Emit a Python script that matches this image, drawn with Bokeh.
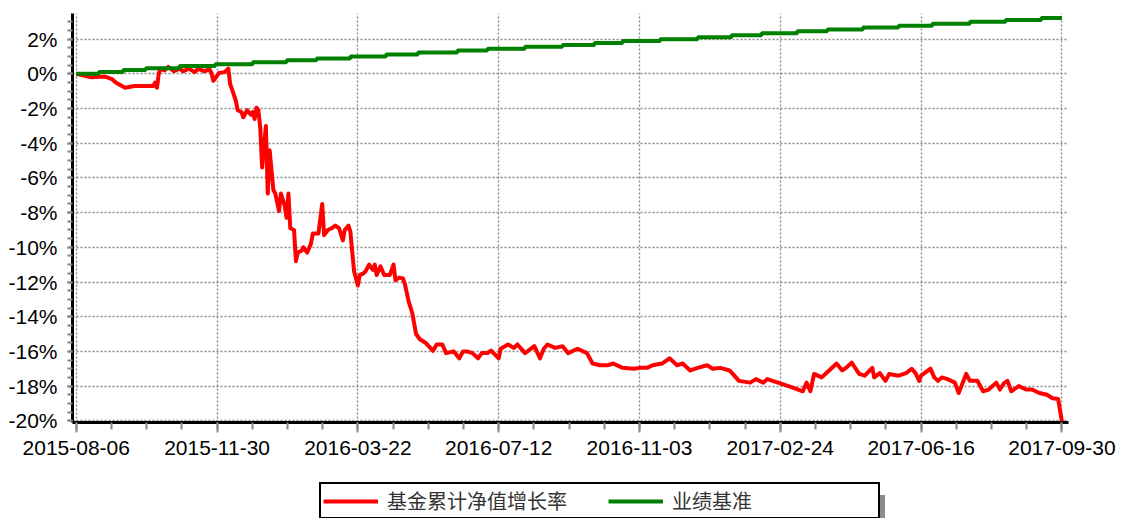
from bokeh.plotting import figure
from bokeh.layouts import column
from bokeh.models import (FixedTicker, PrintfTickFormatter, Legend, LegendItem, Range1d)
from bokeh.embed import file_html
from bokeh.resources import INLINE

# ---- data ----
x_tick_idx = [0, 75, 150, 225, 300, 375, 450, 525]
x_tick_labels = ["2015-08-06", "2015-11-30", "2016-03-22", "2016-07-12",
                 "2016-11-03", "2017-02-24", "2017-06-16", "2017-09-30"]
y_ticks = [-20, -18, -16, -14, -12, -10, -8, -6, -4, -2, 0, 2]

red_label = "基金累计净值增长率"
green_label = "业绩基准"

red_idx = [0, 8, 15, 19, 21, 26, 31, 41, 42, 43,
           44, 45, 47, 49, 52, 55, 57, 60, 63, 65,
           68, 71, 72, 73, 76, 79, 81, 82, 83, 85,
           86, 88, 89, 91, 93, 94, 95, 96, 97, 98,
           99, 101, 102, 103, 105, 106, 108, 109, 111, 112,
           113, 114, 116, 117, 118, 120, 121, 123, 125, 126,
           129, 131, 132, 134, 136, 138, 140, 142, 143, 145,
           146, 148, 150, 151, 153, 154, 156, 158, 159, 160,
           162, 164, 167, 169, 170, 172, 174, 175, 177, 179,
           181, 183, 186, 190, 192, 195, 197, 201, 204, 206,
           208, 211, 214, 216, 219, 221, 225, 226, 230, 233,
           235, 239, 244, 247, 249, 251, 255, 259, 262, 267,
           272, 275, 279, 283, 286, 291, 297, 300, 304, 307,
           312, 316, 320, 323, 327, 331, 336, 339, 343, 348,
           353, 359, 362, 366, 368, 375, 382, 387, 389, 391,
           393, 397, 401, 405, 408, 410, 413, 417, 420, 424,
           425, 428, 431, 433, 438, 442, 445, 447, 449, 450,
           455, 457, 459, 461, 464, 468, 470, 474, 476, 480,
           483, 486, 490, 492, 494, 496, 498, 502, 506, 509,
           513, 517, 520, 523, 525]
red_pct = [0.0, -0.2, -0.15, -0.3, -0.5, -0.8, -0.7, -0.7, -0.5, -0.8,
           0.05, 0.3, 0.2, 0.4, 0.15, 0.3, 0.15, 0.3, 0.1, 0.3,
           0.15, 0.25, 0.05, -0.4, 0.05, 0.1, 0.3, -0.6, -0.9, -1.55,
           -2.1, -2.2, -2.5, -2.1, -2.35, -2.2, -2.6, -1.95, -2.1, -3.1,
           -5.4, -3.0, -6.9, -4.4, -6.7, -6.9, -7.9, -6.9, -7.6, -8.3,
           -6.9, -8.9, -9.0, -10.8, -10.3, -10.2, -10.0, -10.3, -9.8, -9.2,
           -9.2, -7.5, -9.3, -9.0, -8.9, -8.75, -8.9, -9.6, -9.0, -8.75,
           -9.1, -11.4, -12.2, -11.6, -11.5, -11.4, -11.0, -11.3, -11.0, -11.6,
           -11.1, -11.6, -11.6, -11.0, -11.9, -11.75, -11.8, -12.1, -13.1, -13.8,
           -15.0, -15.3, -15.5, -15.97, -15.6, -15.6, -16.1, -16.0, -16.4, -16.0,
           -16.0, -16.1, -16.4, -16.1, -16.1, -15.95, -16.4, -15.85, -15.6, -15.8,
           -15.6, -16.1, -15.7, -16.4, -15.85, -15.6, -15.8, -15.7, -16.1, -15.85,
           -16.1, -16.7, -16.8, -16.8, -16.7, -16.95, -17.0, -16.95, -16.95, -16.8,
           -16.7, -16.4, -16.8, -16.7, -17.1, -16.95, -16.8, -17.0, -16.95, -17.1,
           -17.7, -17.8, -17.6, -17.8, -17.6, -17.85, -18.1, -18.3, -17.8, -18.3,
           -17.3, -17.5, -17.1, -16.7, -17.1, -16.95, -16.65, -17.3, -17.4, -16.95,
           -17.5, -17.25, -17.7, -17.3, -17.4, -17.25, -17.0, -17.25, -17.7, -17.4,
           -17.0, -17.5, -17.7, -17.5, -17.6, -17.8, -18.4, -17.3, -17.7, -17.7,
           -18.3, -18.2, -17.8, -18.2, -17.85, -17.7, -18.3, -18.0, -18.2, -18.2,
           -18.4, -18.5, -18.7, -18.75, -20.05]

green_idx = [0, 12, 25, 37, 55, 74, 94, 112, 128, 146,
             165, 182, 203, 219, 239, 259, 276, 291, 311, 331,
             349, 365, 384, 400, 419, 438, 456, 476, 495, 514, 525]
green_pct = [0.0, 0.11, 0.22, 0.33, 0.45, 0.56, 0.67, 0.78, 0.89, 1.0,
             1.11, 1.23, 1.34, 1.45, 1.56, 1.67, 1.78, 1.89, 2.0, 2.11,
             2.23, 2.34, 2.45, 2.56, 2.67, 2.78, 2.89, 3.0, 3.11, 3.22, 3.22]

RED = "#ff0000"
GREEN = "#008000"

# ---- main chart ----
p = figure(width=1120, height=462, output_backend="svg", toolbar_location=None,
           x_range=Range1d(-2, 528.5), y_range=Range1d(-20.1, 3.48),
           min_border_left=72, min_border_right=52, min_border_top=13,
           min_border_bottom=40)
p.outline_line_color = None
p.background_fill_color = "white"
p.border_fill_color = "white"

p.line(red_idx, red_pct, line_color=RED, line_width=4, line_join="round")
p.step(green_idx, green_pct, mode="after", line_color=GREEN, line_width=4)

p.xaxis.ticker = FixedTicker(ticks=x_tick_idx,
                             minor_ticks=[i * 18.75 for i in range(29)])
p.xaxis.major_label_overrides = {t: l for t, l in zip(x_tick_idx, x_tick_labels)}
p.yaxis.ticker = FixedTicker(ticks=y_ticks,
                             minor_ticks=[-20 + 0.5 * i for i in range(48)])
p.yaxis.formatter = PrintfTickFormatter(format="%d%%")

for ax in (p.xaxis, p.yaxis):
    ax.axis_line_color = "black"
    ax.axis_line_width = 3
    ax.major_tick_line_color = "#888888"
    ax.major_tick_line_width = 2
    ax.minor_tick_line_color = "#888888"
    ax.minor_tick_line_width = 2
    ax.major_tick_in = 0
    ax.minor_tick_in = 0
    ax.major_label_text_font = "Liberation Sans"
    ax.major_label_text_font_size = "21px"
    ax.major_label_text_color = "black"

p.xaxis.major_tick_out = 10
p.xaxis.minor_tick_out = 7
p.xaxis.major_label_standoff = 8
p.yaxis.major_tick_out = 5
p.yaxis.minor_tick_out = 5
p.yaxis.major_label_standoff = 10

for g in (p.xgrid, p.ygrid):
    g.grid_line_color = "#888888"
    g.grid_line_dash = "2 2"
    g.grid_line_width = 1.3

# ---- legend strip below the chart (same borders so frames align) ----
lg = figure(width=1120, height=56, output_backend="svg", toolbar_location=None,
            x_axis_type=None, y_axis_type=None,
            x_range=Range1d(5000, 5001), y_range=Range1d(5000, 5001),
            min_border_left=72, min_border_right=52, min_border_top=0,
            min_border_bottom=0)
lg.outline_line_color = None
lg.grid.visible = False
lg.border_fill_color = "white"
lr = lg.line(red_idx, red_pct, line_color=RED, line_width=4)
lgr = lg.step(green_idx, green_pct, mode="after", line_color=GREEN, line_width=4)

common = dict(orientation="horizontal", padding=2, spacing=17,
              label_standoff=9, glyph_width=55, glyph_height=20,
              label_width=204, label_text_font="Noto Sans CJK SC",
              label_text_font_size="20px", margin=0,
              background_fill_alpha=1.0, border_line_alpha=1.0)

# drop shadow box (blank labels, drawn first, offset right/down)
shadow = Legend(items=[LegendItem(label=" ", renderers=[lr]),
                       LegendItem(label=" ", renderers=[lgr])],
                location=(252, -5), border_line_color="#8c8c8c",
                border_line_width=2, background_fill_color="#8c8c8c",
                label_text_color="#8c8c8c", **common)
lg.add_layout(shadow, "center")

legend = Legend(items=[LegendItem(label=red_label, renderers=[lr]),
                       LegendItem(label=green_label, renderers=[lgr])],
                location=(247, -1), border_line_color="black",
                border_line_width=2, background_fill_color="white",
                label_text_color="#333333", **common)
lg.add_layout(legend, "center")

layout = column(p, lg, spacing=0)
open("out.html", "w").write(file_html(layout, INLINE))
